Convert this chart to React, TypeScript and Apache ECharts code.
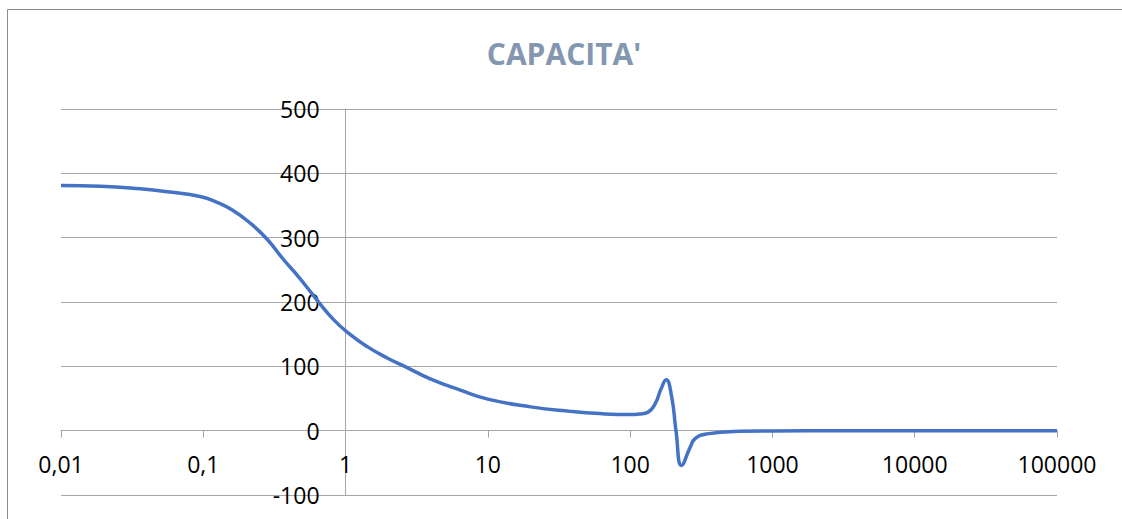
import React, { useEffect, useRef } from "react";
import * as echarts from "echarts";

// Frequency (log scale) and capacity readings
const frequencies: number[] = [
  0.01, 0.019, 0.036, 0.058, 0.095, 0.125, 0.16, 0.21, 0.28, 0.36, 0.48, 0.63, 0.82, 1.07,
  1.41, 1.96, 2.6, 3.9, 6.4, 10, 20, 38, 61, 100, 117, 133, 150, 165, 179, 196, 210, 230,
  264, 286, 345, 591, 1000, 3000, 10000, 100000,
];
const capacity: number[] = [
  381, 380, 376, 371, 364, 355, 343, 324, 298, 268, 236, 203, 173, 150,
  131, 113, 100, 81, 63, 49, 37, 30, 26.5, 25, 26, 28.5, 42, 65, 79, 52, 0, -54,
  -26, -12.5, -5, -1, -0.5, 0, 0, 0,
];
const yTicks: number[] = [-100, 0, 100, 200, 300, 400, 500];
const chartTitle = "CAPACITA'";

const FONT = "'Open Sans', 'Liberation Sans', sans-serif";
const GRID_GRAY = "#A6A6A6";

export default function App() {
  const ref = useRef<HTMLDivElement>(null);

  useEffect(() => {
    if (!ref.current) return;
    const chart = echarts.init(ref.current, null, { renderer: "svg" });
    const points = frequencies.map((f, i) => [f, capacity[i]]);
    const gridLeft = 61;
    const gridRight = 65;
    const gridTop = 109;
    const gridBottom = 24;
    const plotWidth = 1122 - gridLeft - gridRight;
    const plotHeight = 519 - gridTop - gridBottom;
    const yMin = yTicks[0];
    const yMax = yTicks[yTicks.length - 1];
    // y axis crosses the log x axis at 1 (2 decades of 7 from the left)
    const yAxisOffset = -(plotWidth * 2) / 7;
    // x axis crosses the y axis at 0
    const xAxisOffset = -(plotHeight * (0 - yMin)) / (yMax - yMin);

    chart.setOption({
      animation: false,
      graphic: [
        {
          type: "rect",
          shape: { x: 7.5, y: 9.5, width: 1300, height: 700 },
          style: { fill: "none", stroke: "#8C8C8C", lineWidth: 1 },
          silent: true,
        },
        {
          type: "text",
          x: 564,
          y: 53,
          style: {
            text: chartTitle,
            fill: "#8497B0",
            font: `bold 30px ${FONT}`,
            textAlign: "center",
            textVerticalAlign: "middle",
          },
        },
      ],
      grid: {
        left: gridLeft,
        right: gridRight,
        top: gridTop,
        bottom: gridBottom,
        outerBoundsMode: "none",
        containLabel: false,
      },
      xAxis: {
        type: "log",
        logBase: 10,
        min: 0.01,
        max: 100000,
        position: "bottom",
        offset: xAxisOffset,
        axisLine: { onZero: false, lineStyle: { color: GRID_GRAY, width: 1 } },
        axisTick: { show: true, length: 7, lineStyle: { color: GRID_GRAY } },
        minorTick: { show: false },
        splitLine: { show: false },
        axisLabel: {
          margin: 22,
          color: "#000",
          fontFamily: FONT,
          fontSize: 23,
          formatter: (v: number) => String(+Number(v).toPrecision(6)).replace(".", ","),
        },
      },
      yAxis: {
        type: "value",
        min: yMin,
        max: yMax,
        interval: 100,
        position: "left",
        offset: yAxisOffset,
        axisLine: { show: true, onZero: false, lineStyle: { color: GRID_GRAY, width: 1 } },
        axisTick: { show: false },
        splitLine: { show: true, lineStyle: { color: GRID_GRAY, width: 1 } },
        axisLabel: {
          margin: 26,
          color: "#000",
          fontFamily: FONT,
          fontSize: 23,
        },
      },
      series: [
        {
          type: "line",
          data: points,
          smooth: 0.5,
          showSymbol: false,
          lineStyle: { color: "#4472C4", width: 3.5 },
        },
      ],
    });
    return () => chart.dispose();
  }, []);

  return (
    <div
      ref={ref}
      style={{ position: "fixed", left: 0, top: 0, width: 1122, height: 519, background: "#fff" }}
    />
  );
}
